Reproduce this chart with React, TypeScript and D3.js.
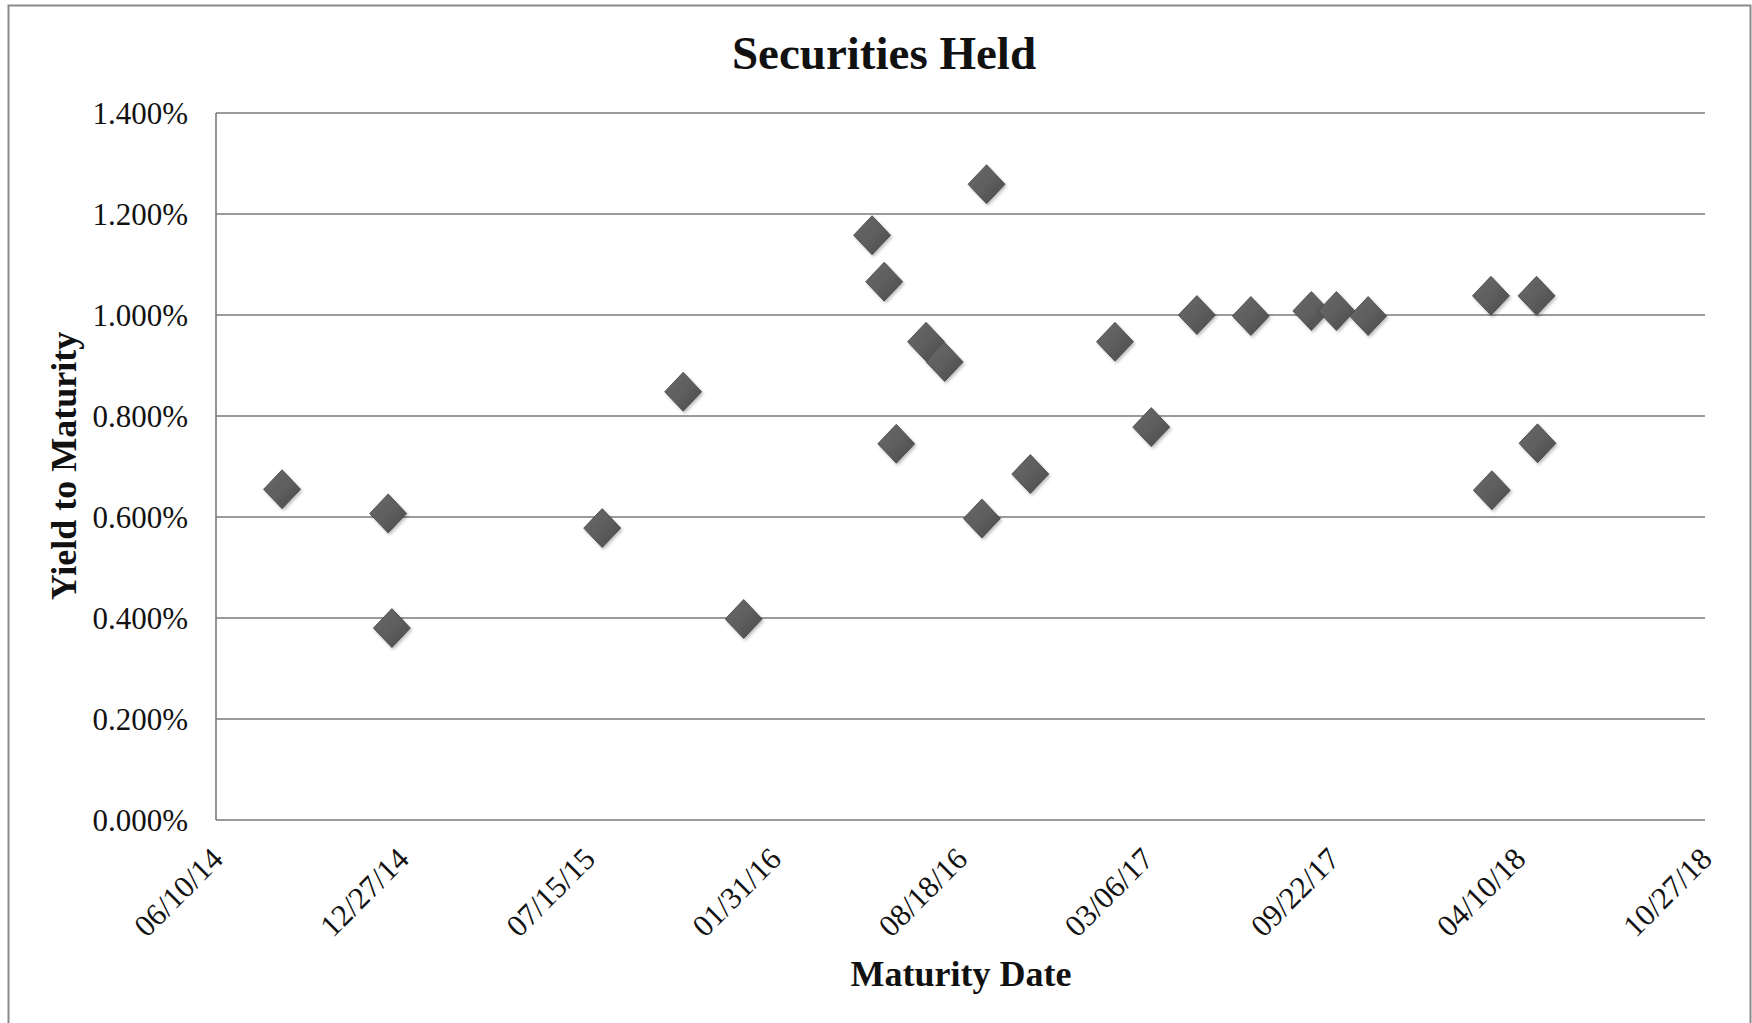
import React from "react";
import * as d3 from "d3";

// ---- Data ----
const maturityDates = [
  "2014-08-20", "2014-12-12", "2014-12-16", "2015-07-30", "2015-10-25",
  "2015-12-29", "2016-05-15", "2016-05-28", "2016-06-10", "2016-07-12",
  "2016-08-01", "2016-09-10", "2016-09-15", "2016-11-01", "2017-01-31",
  "2017-03-11", "2017-04-29", "2017-06-26", "2017-08-30", "2017-09-26",
  "2017-10-30", "2018-03-11", "2018-03-12", "2018-04-29", "2018-04-30",
];
const yieldsPct = [
  0.655, 0.607, 0.380, 0.578, 0.848,
  0.398, 1.158, 1.066, 0.745, 0.947,
  0.907, 0.597, 1.259, 0.685, 0.947,
  0.778, 1.000, 0.998, 1.008, 1.008,
  0.998, 1.038, 0.653, 1.038, 0.746,
];
const xAxisStart = "2014-06-10";
const xAxisEnd = "2018-10-27";
const xTickStepDays = 200;
const yTicks = [0, 0.2, 0.4, 0.6, 0.8, 1.0, 1.2, 1.4];

const TITLE = "Securities Held";
const X_TITLE = "Maturity Date";
const Y_TITLE = "Yield to Maturity";

const W = 1752;
const H = 1023;
const FONT = "'Liberation Serif', 'Times New Roman', Times, serif";

export default function App() {
  const parse = d3.utcParse("%Y-%m-%d");
  const start = parse(xAxisStart) as Date;
  const end = parse(xAxisEnd) as Date;
  const plot = { left: 216, right: 1705, top: 113, bottom: 820 };

  const x = d3.scaleUtc().domain([start, end]).range([plot.left, plot.right]);
  const y = d3.scaleLinear().domain([0, 1.4]).range([plot.bottom, plot.top]);

  const nTicks = Math.round(d3.utcDay.count(start, end) / xTickStepDays);
  const xTicks = d3.range(0, nTicks + 1).map((i) => d3.utcDay.offset(start, i * xTickStepDays));
  const fmtDate = d3.utcFormat("%m/%d/%y");
  const fmtY = (v: number) => v.toFixed(3) + "%";

  const points = maturityDates.map((d, i) => ({ date: parse(d) as Date, v: yieldsPct[i] }));
  const hw = 18.5;
  const hh = 19.5;
  const diamond = (cx: number, cy: number) =>
    `M${cx},${cy - hh}L${cx + hw},${cy}L${cx},${cy + hh}L${cx - hw},${cy}Z`;

  return (
    <svg
      width={W}
      height={H}
      style={{ position: "absolute", left: 0, top: 0, background: "#fff" }}
      fontFamily={FONT}
    >
      <defs>
        <linearGradient id="dg" x1="0" y1="0" x2="1" y2="1">
          <stop offset="0%" stopColor="#6a6a6a" />
          <stop offset="50%" stopColor="#5e5e5e" />
          <stop offset="100%" stopColor="#4a4a4a" />
        </linearGradient>
        <filter id="sh" x="-50%" y="-50%" width="200%" height="200%">
          <feDropShadow dx="1.5" dy="2" stdDeviation="1.5" floodColor="#000" floodOpacity="0.25" />
        </filter>
      </defs>
      <rect x={0} y={0} width={W} height={H} fill="#fff" />
      {/* outer chart border */}
      <rect x={8.5} y={5.5} width={1742} height={1040} fill="none" stroke="#8a8a8a" strokeWidth={2} />

      {/* title */}
      <text x={884} y={69} textAnchor="middle" fontSize={47} fontWeight="bold" fill="#111">
        {TITLE}
      </text>

      {/* gridlines */}
      {yTicks.map((t) => (
        <line
          key={"g" + t}
          x1={plot.left}
          x2={plot.right}
          y1={y(t)}
          y2={y(t)}
          stroke="#7a7a7a"
          strokeWidth={1.6}
        />
      ))}
      {/* y axis line */}
      <line x1={plot.left} x2={plot.left} y1={plot.top} y2={plot.bottom} stroke="#7a7a7a" strokeWidth={1.6} />

      {/* y tick labels */}
      {yTicks.map((t) => (
        <text
          key={"yl" + t}
          x={188}
          y={y(t)}
          dy="0.35em"
          textAnchor="end"
          fontSize={31}
          fill="#111"
        >
          {fmtY(t)}
        </text>
      ))}

      {/* x tick labels */}
      {xTicks.map((d, i) => {
        const tx = x(d) + 1;
        const ty = 853;
        return (
          <text
            key={"xl" + i}
            x={tx}
            y={ty}
            dy="0.35em"
            textAnchor="end"
            fontSize={31}
            fill="#111"
            transform={`rotate(-45, ${tx}, ${ty})`}
          >
            {fmtDate(d)}
          </text>
        );
      })}

      {/* axis titles */}
      <text x={961} y={986} textAnchor="middle" fontSize={36} fontWeight="bold" fill="#111">
        {X_TITLE}
      </text>
      <text
        x={76}
        y={466}
        textAnchor="middle"
        fontSize={36}
        fontWeight="bold"
        fill="#111"
        transform="rotate(-90, 76, 466)"
      >
        {Y_TITLE}
      </text>

      {/* markers */}
      <g filter="url(#sh)">
        {points.map((p, i) => (
          <path
            key={"p" + i}
            d={diamond(x(p.date), y(p.v))}
            fill="url(#dg)"
            stroke="#454545"
            strokeWidth={0.8}
          />
        ))}
      </g>
    </svg>
  );
}
